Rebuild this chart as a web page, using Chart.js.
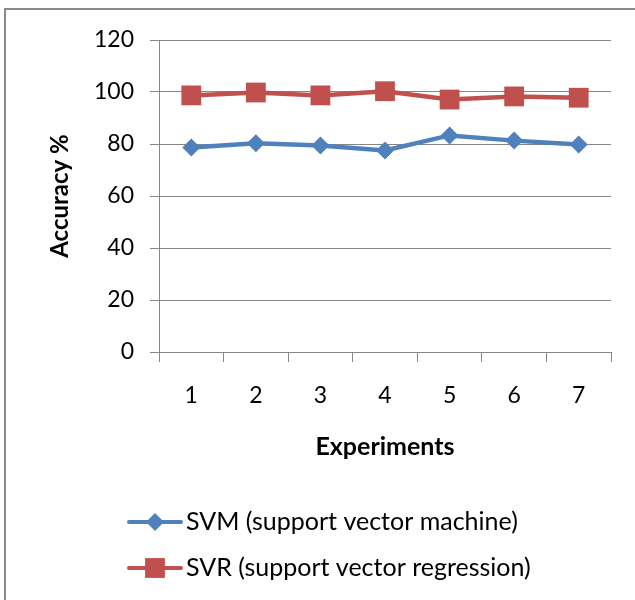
<!DOCTYPE html>
<html>
<head>
<meta charset="utf-8">
<script src="https://cdn.jsdelivr.net/npm/chart.js@4.4.1/dist/chart.umd.min.js"></script>
<style>
    html, body { margin: 0; padding: 0; background: #fff; overflow: hidden; }
    #marco {
        position: absolute; left: 4px; top: 8px; width: 700px; height: 700px;
        border: 2px solid #8a8a8a; box-sizing: border-box;
    }
    #lienzo { position: absolute; left: 0; top: 0; }
</style>
</head>
<body>
<div id="marco"></div>
<canvas id="lienzo" width="635" height="600"></canvas>
<script>
// Datos del grafico
const experimentos = ['1', '2', '3', '4', '5', '6', '7'];
const valoresSVM = [78.7, 80.3, 79.4, 77.5, 83.3, 81.3, 79.8];
const valoresSVR = [98.7, 99.8, 98.7, 100.3, 97.1, 98.3, 97.8];
const ticksY = [0, 20, 40, 60, 80, 100, 120];

const FUENTE = 'Lato, "Open Sans", sans-serif';
const GRIS = '#868686';

// Leyenda dibujada a mano: linea + marcador, una serie por fila
const leyendaPlugin = {
    id: 'leyendaLinea',
    afterDraw(chart) {
        const ctx = chart.ctx;
        const filas = [522, 568];
        chart.data.datasets.forEach((ds, i) => {
            const y = filas[i];
            ctx.save();
            ctx.strokeStyle = ds.borderColor;
            ctx.lineWidth = 4;
            ctx.lineCap = 'round';
            ctx.beginPath();
            ctx.moveTo(129, y);
            ctx.lineTo(181, y);
            ctx.stroke();
            ctx.fillStyle = ds.pointBackgroundColor;
            Chart.helpers.drawPoint(ctx, {
                pointStyle: ds.pointStyle,
                radius: ds.pointRadius,
                borderWidth: 0
            }, 155, y);
            ctx.fillStyle = '#000';
            ctx.font = '25px ' + FUENTE;
            ctx.textAlign = 'left';
            ctx.textBaseline = 'middle';
            ctx.fillText(ds.label, 186, y);
            ctx.restore();
        });
    }
};

new Chart(document.getElementById('lienzo'), {
    type: 'line',
    data: {
        labels: experimentos,
        datasets: [{
            label: 'SVM (support vector machine)',
            data: valoresSVM,
            borderColor: '#4F81BD',
            backgroundColor: '#4F81BD',
            pointBackgroundColor: '#4F81BD',
            pointBorderWidth: 0,
            borderWidth: 4.5,
            pointStyle: 'rectRot',
            pointRadius: 9,
            tension: 0
        }, {
            label: 'SVR (support vector regression)',
            data: valoresSVR,
            borderColor: '#C0504D',
            backgroundColor: '#C0504D',
            pointBackgroundColor: '#C0504D',
            pointBorderWidth: 0,
            borderWidth: 4.5,
            pointStyle: 'rect',
            pointRadius: 14,
            tension: 0
        }]
    },
    options: {
        responsive: false,
        animation: false,
        layout: { padding: { left: 0, top: 40, right: 24, bottom: 130 } },
        plugins: {
            legend: { display: false },
            tooltip: { enabled: false }
        },
        scales: {
            x: {
                offset: true,
                grid: {
                    offset: true,
                    drawOnChartArea: false,
                    drawTicks: true,
                    tickLength: 10,
                    color: GRIS
                },
                border: { color: GRIS },
                ticks: {
                    color: '#000',
                    font: { family: FUENTE, size: 23 },
                    padding: 20
                },
                title: {
                    display: true,
                    text: 'Experiments',
                    color: '#000',
                    font: { family: FUENTE, size: 25, weight: 'bold' },
                    padding: { top: 0, bottom: 8 }
                },
                afterFit(scale) { scale.height = 118; }
            },
            y: {
                min: 0,
                max: 120,
                afterBuildTicks(scale) {
                    scale.ticks = ticksY.map(v => ({ value: v }));
                },
                grid: {
                    color: GRIS,
                    tickLength: 9
                },
                border: { color: GRIS },
                ticks: {
                    color: '#000',
                    font: { family: FUENTE, size: 23 },
                    padding: 16
                },
                title: {
                    display: true,
                    text: 'Accuracy %',
                    color: '#000',
                    font: { family: FUENTE, size: 24, weight: 'bold' },
                    padding: { top: 46, bottom: 0 }
                },
                afterFit(scale) { scale.width = 159; }
            }
        }
    },
    plugins: [leyendaPlugin]
});
</script>
</body>
</html>
